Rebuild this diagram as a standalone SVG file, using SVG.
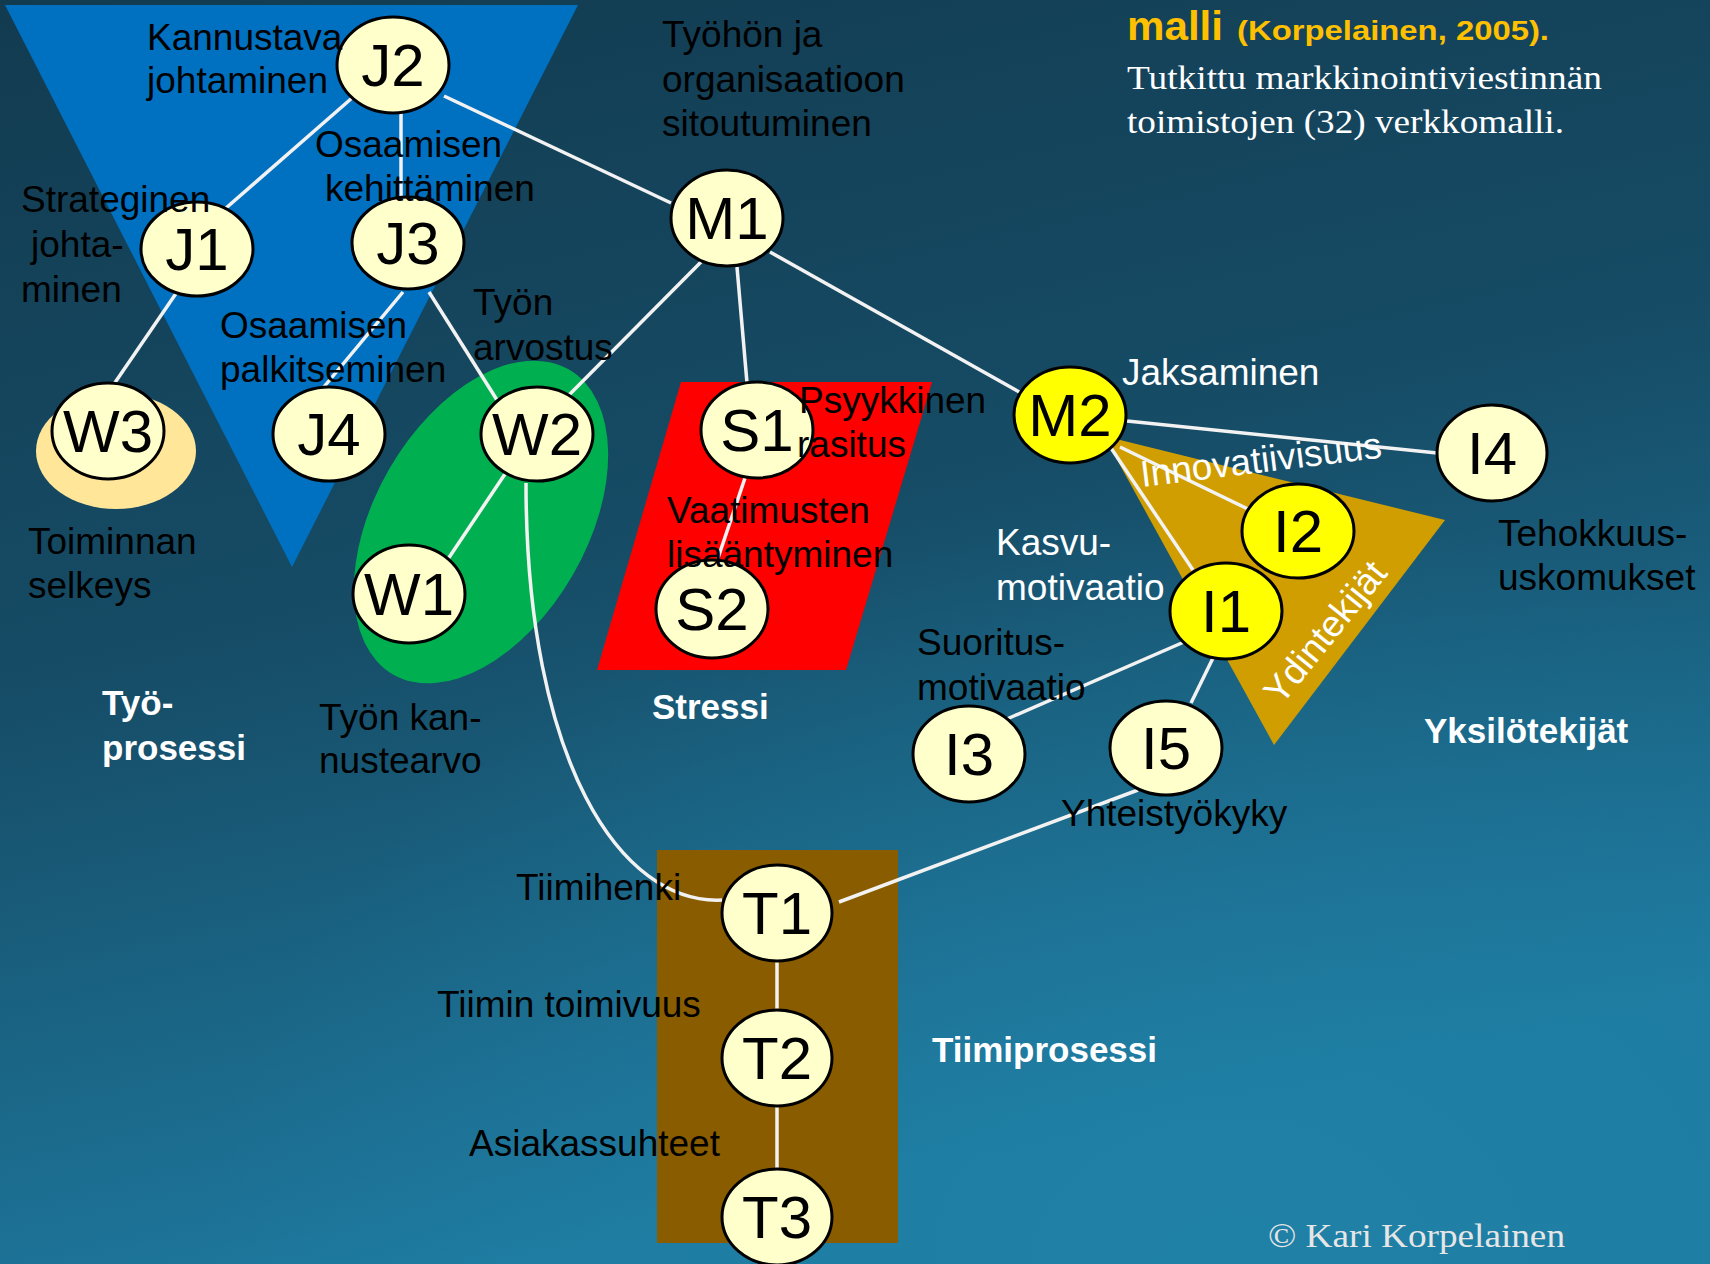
<svg xmlns="http://www.w3.org/2000/svg" width="1710" height="1264" viewBox="0 0 1710 1264">
<defs>
<linearGradient id="bg" x1="0" y1="0" x2="0.3" y2="1">
<stop offset="0" stop-color="#123b50"/>
<stop offset="0.5" stop-color="#164c66"/>
<stop offset="1" stop-color="#1e7aa0"/>
</linearGradient>
<radialGradient id="glow" cx="0.72" cy="1" r="0.6">
<stop offset="0" stop-color="#2185aa" stop-opacity="0.6"/>
<stop offset="1" stop-color="#2185aa" stop-opacity="0"/>
</radialGradient>
<style>
.node ellipse{fill:#ffffcc;stroke:#000;stroke-width:3}
.node.y ellipse{fill:#ffff00}
.node text{font-family:"Liberation Sans",Arial,sans-serif;font-size:60px;fill:#000;text-anchor:middle}
#connectors line,#connectors path{stroke:#f2f2f2;stroke-width:3.5;fill:none}
.lb{font-family:"Liberation Sans",Arial,sans-serif;font-size:37px;fill:#000}
.lw{font-family:"Liberation Sans",Arial,sans-serif;font-size:37px;fill:#fff}
.lwb{font-family:"Liberation Sans",Arial,sans-serif;font-size:35px;font-weight:bold;fill:#fff}
</style>
</defs>
<rect width="1710" height="1264" fill="url(#bg)"/>
<rect width="1710" height="1264" fill="url(#glow)"/>

<g id="areas">
<polygon points="5,5 578,5 292,567" fill="#0070c0"/>
<ellipse cx="116" cy="451" rx="80" ry="58" fill="#ffe699"/>
<ellipse cx="481" cy="522" rx="176" ry="106" transform="rotate(-60 481 522)" fill="#00b050"/>
<polygon points="681,382 932,382 846,670 597,670" fill="#ff0000"/>
<polygon points="1104,436 1445,520 1274,745" fill="#d09e00"/>
<rect x="657" y="850" width="241" height="393" fill="#8a5c00"/>
</g>

<g id="connectors">
<line x1="352" y1="98" x2="218" y2="215"/>
<line x1="401" y1="113" x2="401" y2="198"/>
<line x1="444" y1="96" x2="671" y2="203"/>
<line x1="177" y1="292" x2="114" y2="384"/>
<line x1="403" y1="292" x2="323" y2="388"/>
<line x1="429" y1="292" x2="497" y2="400"/>
<line x1="701" y1="262" x2="568" y2="396"/>
<line x1="737" y1="267" x2="747" y2="383"/>
<line x1="770" y1="252" x2="1021" y2="393"/>
<line x1="505" y1="474" x2="446" y2="562"/>
<path d="M526,483 C526,760 620,905 722,900"/>
<line x1="745" y1="478" x2="717" y2="561"/>
<line x1="1127" y1="421" x2="1437" y2="453"/>
<line x1="1120" y1="447" x2="1250" y2="510"/>
<line x1="1111" y1="448" x2="1193" y2="570"/>
<line x1="1184" y1="642" x2="1007" y2="719"/>
<line x1="1214" y1="656" x2="1191" y2="703"/>
<line x1="1138" y1="790" x2="839" y2="902"/>
<line x1="777" y1="962" x2="777" y2="1010"/>
<line x1="777" y1="1106" x2="777" y2="1170"/>
</g>

<g id="J2" class="node"><ellipse cx="393" cy="65" rx="56" ry="48"/><text x="393" y="86">J2</text></g>
<g id="J1" class="node"><ellipse cx="197" cy="249" rx="56" ry="47"/><text x="197" y="270">J1</text></g>
<g id="J3" class="node"><ellipse cx="408" cy="243" rx="56" ry="46"/><text x="408" y="264">J3</text></g>
<g id="W3" class="node"><ellipse cx="108" cy="431" rx="56" ry="48"/><text x="108" y="452">W3</text></g>
<g id="J4" class="node"><ellipse cx="329" cy="434" rx="56" ry="47"/><text x="329" y="455">J4</text></g>
<g id="W2" class="node"><ellipse cx="537" cy="434" rx="56" ry="47"/><text x="537" y="455">W2</text></g>
<g id="W1" class="node"><ellipse cx="409" cy="594" rx="56" ry="49"/><text x="409" y="615">W1</text></g>
<g id="M1" class="node"><ellipse cx="727" cy="218" rx="56" ry="48"/><text x="727" y="239">M1</text></g>
<g id="S1" class="node"><ellipse cx="757" cy="430" rx="56" ry="48"/><text x="757" y="451">S1</text></g>
<g id="S2" class="node"><ellipse cx="712" cy="609" rx="56" ry="49"/><text x="712" y="630">S2</text></g>
<g id="M2" class="node y"><ellipse cx="1070" cy="415" rx="56" ry="48"/><text x="1070" y="436">M2</text></g>
<g id="I4" class="node"><ellipse cx="1492" cy="453" rx="55" ry="48"/><text x="1492" y="474">I4</text></g>
<g id="I2" class="node y"><ellipse cx="1298" cy="531" rx="56" ry="47"/><text x="1298" y="552">I2</text></g>
<g id="I1" class="node y"><ellipse cx="1226" cy="611" rx="56" ry="48"/><text x="1226" y="632">I1</text></g>
<g id="I3" class="node"><ellipse cx="969" cy="754" rx="56" ry="48"/><text x="969" y="775">I3</text></g>
<g id="I5" class="node"><ellipse cx="1166" cy="748" rx="56" ry="47"/><text x="1166" y="769">I5</text></g>
<g id="T1" class="node"><ellipse cx="777" cy="913" rx="55" ry="48"/><text x="777" y="934">T1</text></g>
<g id="T2" class="node"><ellipse cx="777" cy="1058" rx="55" ry="48"/><text x="777" y="1079">T2</text></g>
<g id="T3" class="node"><ellipse cx="777" cy="1217" rx="55" ry="48"/><text x="777" y="1238">T3</text></g>

<g id="labels">
<text class="lb" x="147" y="50">Kannustava</text>
<text class="lb" x="147" y="93">johtaminen</text>
<text class="lb" x="315" y="157">Osaamisen</text>
<text class="lb" x="325" y="201">kehittäminen</text>
<text class="lb" x="21" y="212">Strateginen</text>
<text class="lb" x="31" y="257">johta-</text>
<text class="lb" x="21" y="302">minen</text>
<text class="lb" x="220" y="338">Osaamisen</text>
<text class="lb" x="220" y="382">palkitseminen</text>
<text class="lb" x="473" y="315">Työn</text>
<text class="lb" x="473" y="360">arvostus</text>
<text class="lb" x="662" y="47">Työhön ja</text>
<text class="lb" x="662" y="92">organisaatioon</text>
<text class="lb" x="662" y="136">sitoutuminen</text>
<text x="1127" y="40" font-family="'Liberation Sans',Arial,sans-serif" font-weight="bold" font-size="40" fill="#ffc000" textLength="96" lengthAdjust="spacingAndGlyphs">malli</text>
<text x="1237" y="40" font-family="'Liberation Sans',Arial,sans-serif" font-weight="bold" font-size="28" fill="#ffc000" textLength="312" lengthAdjust="spacingAndGlyphs">(Korpelainen, 2005).</text>
<text x="1127" y="89" font-family="'Liberation Serif','Times New Roman',serif" font-size="33" fill="#fff" textLength="475" lengthAdjust="spacingAndGlyphs">Tutkittu markkinointiviestinnän</text>
<text x="1127" y="133" font-family="'Liberation Serif','Times New Roman',serif" font-size="33" fill="#fff" textLength="437" lengthAdjust="spacingAndGlyphs">toimistojen (32) verkkomalli.</text>
<text class="lw" x="1122" y="385">Jaksaminen</text>
<text class="lb" x="799" y="413">Psyykkinen</text>
<text class="lb" x="797" y="457">rasitus</text>
<text class="lb" x="667" y="523">Vaatimusten</text>
<text class="lb" x="667" y="567">lisääntyminen</text>
<text class="lw" x="1142" y="487" transform="rotate(-7 1142 487)">Innovatiivisuus</text>
<text class="lw" x="996" y="555">Kasvu-</text>
<text class="lw" x="996" y="600">motivaatio</text>
<text class="lb" x="917" y="655">Suoritus-</text>
<text class="lb" x="917" y="700">motivaatio</text>
<text class="lw" x="1335" y="640" text-anchor="middle" transform="rotate(-51 1335 640)">Ydintekijät</text>
<text class="lb" x="1498" y="546">Tehokkuus-</text>
<text class="lb" x="1498" y="590">uskomukset</text>
<text class="lwb" x="1424" y="743">Yksilötekijät</text>
<text class="lwb" x="652" y="719">Stressi</text>
<text class="lb" x="1061" y="826">Yhteistyökyky</text>
<text class="lb" x="28" y="554">Toiminnan</text>
<text class="lb" x="28" y="598">selkeys</text>
<text class="lwb" x="102" y="715">Työ-</text>
<text class="lwb" x="102" y="760">prosessi</text>
<text class="lb" x="319" y="730">Työn kan-</text>
<text class="lb" x="319" y="773">nustearvo</text>
<text class="lb" x="516" y="900">Tiimihenki</text>
<text class="lb" x="437" y="1017">Tiimin toimivuus</text>
<text class="lb" x="469" y="1156">Asiakassuhteet</text>
<text class="lwb" x="932" y="1062">Tiimiprosessi</text>
<text x="1268" y="1247" font-family="'Liberation Serif','Times New Roman',serif" font-size="34" fill="#e6e6e6" textLength="297" lengthAdjust="spacingAndGlyphs">© Kari Korpelainen</text>
</g>
</svg>
